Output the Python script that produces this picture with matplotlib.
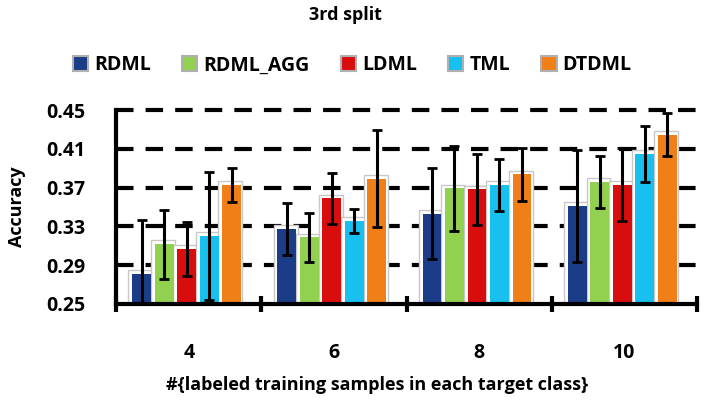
import numpy as np
import matplotlib
matplotlib.use('Agg')
import matplotlib.pyplot as plt
from matplotlib.patches import Patch

plt.rcParams['font.family'] = ['Open Sans', 'DejaVu Sans']
plt.rcParams['font.weight'] = 'bold'

# data
groups = ['4', '6', '8', '10']
methods = ['RDML', 'RDML_AGG', 'LDML', 'TML', 'DTDML']
rdml = [0.2813, 0.3274, 0.3431, 0.3513]
rdml_agg = [0.3115, 0.3186, 0.3691, 0.3757]
ldml = [0.3069, 0.3588, 0.3681, 0.3729]
tml = [0.3201, 0.3353, 0.3725, 0.4050]
dtdml = [0.3729, 0.3793, 0.3836, 0.4246]
rdml_err = [0.0552, 0.0267, 0.0469, 0.0576]
rdml_agg_err = [0.0354, 0.0249, 0.0436, 0.0267]
ldml_err = [0.0279, 0.0264, 0.0368, 0.0378]
tml_err = [0.0664, 0.0126, 0.0271, 0.0290]
dtdml_err = [0.0174, 0.0504, 0.0271, 0.0223]
yticks = [0.25, 0.29, 0.33, 0.37, 0.41, 0.45]

values = [rdml, rdml_agg, ldml, tml, dtdml]
errors = [rdml_err, rdml_agg_err, ldml_err, tml_err, dtdml_err]
colors = ['#1b3c86', '#92d050', '#d80d0d', '#18c0f0', '#f07f18']

fig = plt.figure(figsize=(7.04, 4.09), dpi=100)
ax = fig.add_axes([0.165, 0.257, 0.825, 0.474])

x = np.arange(len(groups))
pitch = 0.155
w = 0.13

# dashed grid lines
for yv in yticks[1:]:
    ax.axhline(yv, color='black', lw=3, linestyle=(0, (4.2, 2.9)), zorder=1,
               clip_on=False)

for i, (vals, errs, c) in enumerate(zip(values, errors, colors)):
    pos = x + (i - 2) * pitch - 0.015
    # white frame behind each bar
    ax.bar(pos - 0.008, np.array(vals) - 0.25 + 0.004, bottom=0.25, width=w + 0.035,
           color='white', edgecolor='#c8c8c8', linewidth=1, zorder=2)
    ax.bar(pos, np.array(vals) - 0.25, bottom=0.25, width=w, color=c,
           edgecolor='none', zorder=3)
    ax.errorbar(pos, vals, yerr=errs, fmt='none', ecolor='black', elinewidth=2.2,
                capsize=3.5, capthick=2, zorder=4)

ax.set_ylim(0.25, 0.45)
ax.set_xlim(-0.5, len(groups) - 0.5)
ax.set_yticks(yticks)
ax.set_yticklabels(['%.2f' % t for t in yticks], fontsize=14, fontweight='bold')
ax.set_xticks(x)
ax.set_xticklabels(groups, fontsize=14, fontweight='bold')
ax.set_xticks(np.arange(len(groups) + 1) - 0.5, minor=True)
ax.tick_params(axis='y', length=0, pad=22)
ax.tick_params(axis='x', which='major', length=0, pad=28)
ax.tick_params(axis='x', which='minor', length=11, width=3, direction='inout')

for s in ['top', 'right']:
    ax.spines[s].set_visible(False)
for s in ['left', 'bottom']:
    ax.spines[s].set_linewidth(3)
    ax.spines[s].set_zorder(5)

ax.set_ylabel('Accuracy', fontsize=13, fontweight='bold')
ax.yaxis.set_label_coords(-0.155, 0.5)
fig.text(0.535, 0.058, '#{labeled training samples in each target class}',
         ha='center', va='center', fontsize=13, fontweight='bold')
fig.text(0.49, 0.963, '3rd split', ha='center', va='center', fontsize=13,
         fontweight='bold')

handles = [Patch(facecolor=c, edgecolor='#b0b0b0', linewidth=1.5) for c in colors]
fig.legend(handles, methods, loc='center', bbox_to_anchor=(0.5, 0.84), ncol=5,
           frameon=False, prop={'size': 14, 'weight': 'bold'},
           handlelength=0.8, handleheight=0.8, handletextpad=0.3, columnspacing=1.6)

fig.savefig('out.png', dpi=100)
